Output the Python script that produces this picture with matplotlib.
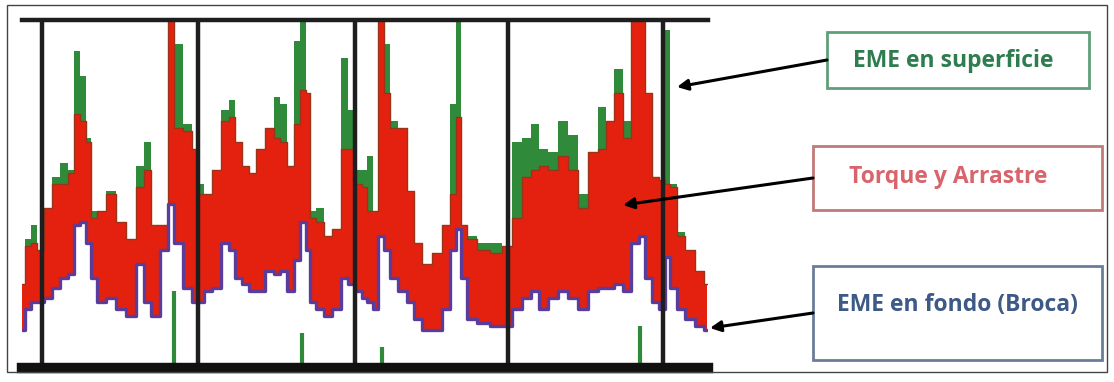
import matplotlib.pyplot as plt
from matplotlib.patches import Rectangle

# posicion a lo largo del registro (unidades arbitrarias)
pos = [0, 6, 11, 18, 26, 33, 43, 49, 54, 61, 66, 71, 79, 89, 99, 109, 119, 124, 133, 143,
       148, 156, 166, 173, 178, 185, 195, 203, 210, 216, 223, 230, 238, 248, 255, 261, 268, 275, 281, 286,
       290, 298, 305, 315, 323, 328, 338, 341, 348, 353, 358, 365, 371, 381, 388, 395, 405, 415, 425, 431,
       436, 441, 448, 461, 475, 485, 495, 505, 513, 521, 531, 541, 551, 561, 571, 580, 588, 596, 605, 613,
       620, 626, 633, 640, 645, 651, 658, 668, 678, 685]

# torque y arrastre (borde superior del relleno rojo)
torque = [24, 35, 36, 34, 46, 53, 53, 56, 73, 71, 65, 43, 45, 50, 42, 37, 52, 57, 41, 41,
          100, 69, 68, 63, 50, 50, 57, 71, 72, 65, 58, 56, 63, 69, 66, 65, 58, 70, 80, 79,
          43, 42, 38, 40, 63, 63, 53, 52, 45, 45, 100, 79, 69, 69, 51, 36, 30, 33, 41, 50,
          72, 41, 37, 34, 33, 35, 43, 55, 57, 58, 57, 61, 57, 46, 62, 63, 71, 79, 66, 100,
          100, 79, 55, 54, 53, 52, 38, 34, 28, 24]

# EME en superficie
superficie = [24, 37, 41, 34, 46, 55, 59, 57, 91, 84, 66, 45, 45, 51, 42, 37, 58, 65, 41, 41,
              100, 93, 70, 63, 53, 50, 57, 74, 77, 65, 58, 56, 63, 69, 78, 76, 58, 94, 100, 79,
              45, 46, 38, 40, 89, 74, 57, 57, 61, 45, 100, 93, 71, 69, 51, 36, 30, 33, 41, 76,
              100, 41, 38, 36, 36, 35, 65, 66, 70, 63, 62, 71, 67, 50, 62, 75, 71, 86, 71, 100,
              100, 79, 55, 54, 97, 53, 39, 34, 28, 24]

# EME en fondo (broca)
fondo = [11, 17, 19, 19, 20, 23, 26, 27, 41, 42, 36, 26, 19, 20, 17, 15, 30, 19, 15, 34,
         47, 36, 23, 19, 19, 22, 23, 36, 34, 26, 24, 22, 22, 28, 27, 28, 22, 31, 42, 34,
         19, 17, 15, 17, 26, 24, 22, 20, 19, 17, 38, 34, 26, 22, 19, 14, 11, 11, 17, 34,
         40, 26, 14, 13, 12, 12, 17, 20, 22, 17, 20, 22, 20, 17, 22, 23, 23, 24, 22, 36,
         38, 26, 19, 17, 32, 23, 17, 14, 12, 11]

# picos verdes sueltos en la parte baja
picos_x = [152, 280, 360, 618]
picos_y = [22, 10, 6, 12]

# lineas verticales de referencia
cortes = [20, 176, 333, 486, 641]

fig = plt.figure(figsize=(11.14, 3.82), dpi=100)
ax = fig.add_axes([22 / 1114, 14 / 382, 686 / 1114, 348 / 382])

ax.fill_between(pos, fondo, superficie, step='mid', color='#2f8a3a', lw=0)
ax.fill_between(pos, fondo, torque, step='mid', color='#e4210f', lw=0)
ax.step(pos, torque, where='mid', color='#9a3418', lw=1.0)
ax.step(pos, fondo, where='mid', color='#5b3c9a', lw=2.4)
ax.vlines(picos_x, 0, picos_y, color='#2f8a3a', lw=3)

ax.vlines(cortes, 0, 100, color='#1e1e1e', lw=3.2, clip_on=False)
ax.axhline(100, color='#1e1e1e', lw=3.2, clip_on=False)
ax.axhline(0, color='#111111', lw=7.5, clip_on=False)

ax.set_xlim(0, 686)
ax.set_ylim(0, 100)
ax.axis('off')

# capa de anotaciones en pixeles de la figura
ov = fig.add_axes([0, 0, 1, 1], zorder=5)
ov.set_xlim(0, 1114)
ov.set_ylim(382, 0)
ov.axis('off')
ov.patch.set_alpha(0)

ov.add_patch(Rectangle((7, 5), 1100, 367, fill=False, ec='#444444', lw=1))

cajas = [
    ((827, 32), 262, 56, '#5f9f78', 'EME en superficie', '#2e7d4f', (953, 61)),
    ((813, 146), 289, 64, '#c27a78', 'Torque y Arrastre', '#d8646c', (948, 177)),
    ((813, 266), 289, 94, '#6a7d98', 'EME en fondo (Broca)', '#3d5a86', (957, 305)),
]
for (x0, y0), w, h, ec, txt, tc, (tx, ty) in cajas:
    ov.add_patch(Rectangle((x0, y0), w, h, fill=False, ec=ec, lw=2))
    ov.text(tx, ty, txt, color=tc, fontsize=16.5, fontweight='bold',
            family=['Open Sans', 'DejaVu Sans'], ha='center', va='center')

flechas = [((827, 60), (677, 87)), ((813, 178), (623, 205)), ((813, 313), (710, 328))]
for tail, head in flechas:
    ov.annotate('', xy=head, xytext=tail,
                arrowprops=dict(arrowstyle='-|>', color='black', lw=2.2,
                                mutation_scale=16, shrinkA=0, shrinkB=0))

plt.savefig('out.png', dpi=100)
